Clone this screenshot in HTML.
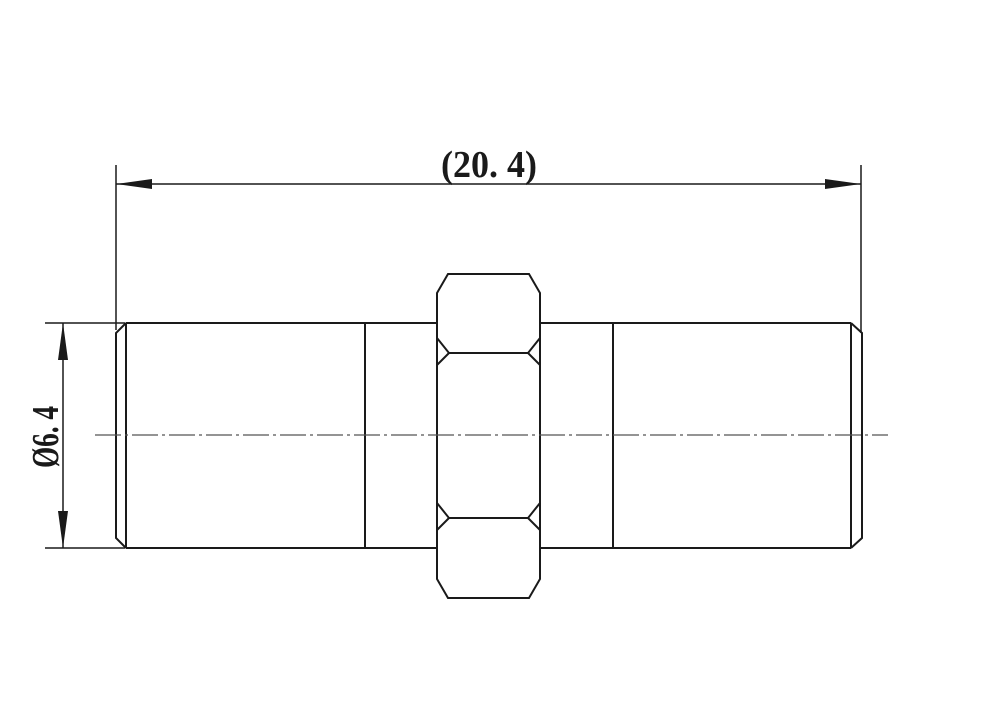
<!DOCTYPE html>
<html><head><style>body{margin:0;background:#fff}svg{display:block}</style></head><body>
<svg width="1000" height="704" viewBox="0 0 1000 704" xmlns="http://www.w3.org/2000/svg">
<g stroke="#1a1a1a" stroke-width="2" fill="none">
<line x1="116" y1="165" x2="116" y2="330" stroke-width="1.5"/>
<line x1="861" y1="165" x2="861" y2="333" stroke-width="1.5"/>
<line x1="116" y1="184" x2="861" y2="184" stroke-width="1.5"/>
<line x1="45" y1="323" x2="125" y2="323" stroke-width="1.5"/>
<line x1="45" y1="548" x2="125" y2="548" stroke-width="1.5"/>
<line x1="63" y1="323" x2="63" y2="548" stroke-width="1.5"/>
<line x1="126" y1="323" x2="437" y2="323"/>
<line x1="126" y1="548" x2="437" y2="548"/>
<line x1="540" y1="323" x2="851" y2="323"/>
<line x1="540" y1="548" x2="851" y2="548"/>
<polyline points="126,323 116,333 116,538 126,548"/>
<line x1="126" y1="323" x2="126" y2="548"/>
<polyline points="851,323 862,333 862,538 851,548"/>
<line x1="851" y1="323" x2="851" y2="548"/>
<line x1="365" y1="323" x2="365" y2="548"/>
<line x1="613" y1="323" x2="613" y2="548"/>
<polygon points="448,274 529,274 540,293 540,579 529,598 448,598 437,579 437,293"/>
<line x1="449" y1="353" x2="528" y2="353"/>
<line x1="449" y1="518" x2="528" y2="518"/>
<polyline points="437,338 449,353 437,365"/>
<polyline points="540,338 528,353 540,365"/>
<polyline points="437,503 449,518 437,530"/>
<polyline points="540,503 528,518 540,530"/>
<line x1="95" y1="435" x2="888" y2="435" stroke-width="1.2" stroke="#555" stroke-dasharray="26,4,3,4"/>
</g>
<g fill="#1a1a1a">
<polygon points="116,184 152,179 152,189"/>
<polygon points="861,184 825,179 825,189"/>
<polygon points="63,323 58,360 68,360"/>
<polygon points="63,548 58,511 68,511"/>
</g>
<text x="441" y="177" textLength="96" lengthAdjust="spacingAndGlyphs" font-family="Liberation Serif, serif" font-size="38" font-weight="bold" fill="#1a1a1a">(20. 4)</text>
<text x="0" y="0" textLength="62" lengthAdjust="spacingAndGlyphs" font-family="Liberation Serif, serif" font-size="38" font-weight="bold" fill="#1a1a1a" transform="translate(58,468) rotate(-90)">Ø6. 4</text>
</svg>
</body></html>
